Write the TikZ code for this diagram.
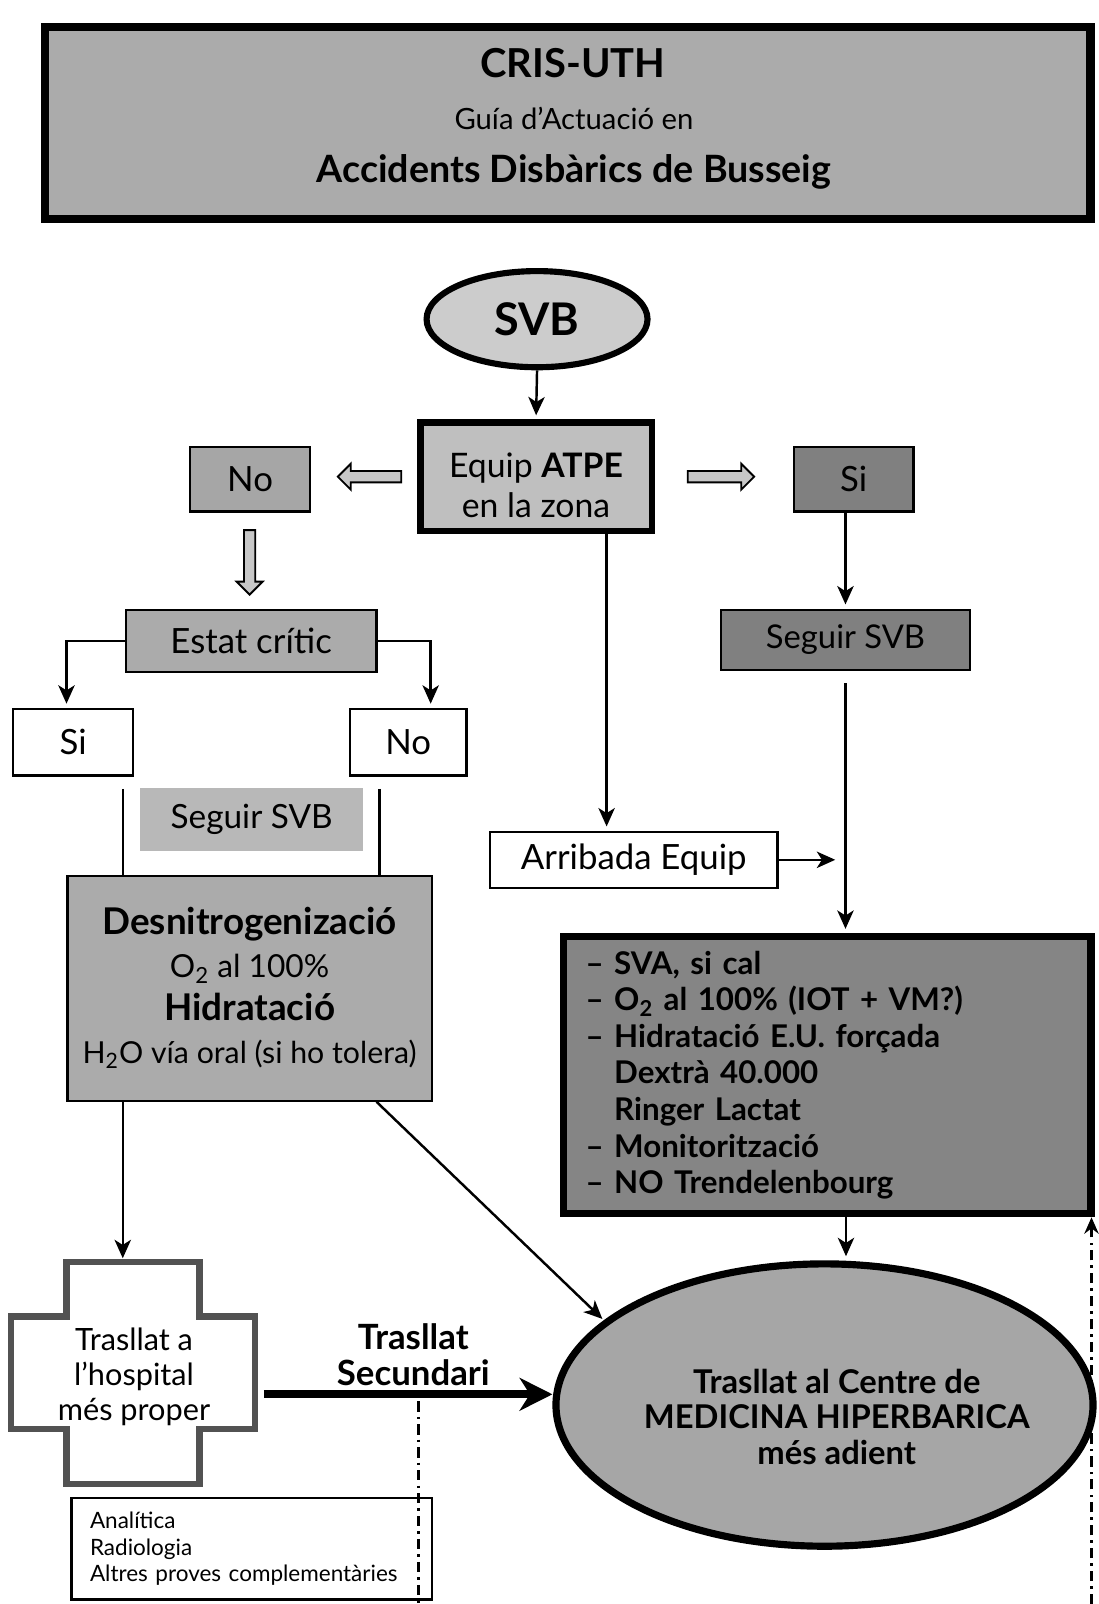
\documentclass[tikz,border=0pt]{standalone}
\usepackage{fontspec}
\setmainfont{Lato}
\usetikzlibrary{shapes.geometric,shapes.arrows,arrows.meta,calc}
\newcommand{\fsz}[2]{\fontsize{#1}{#2}\selectfont}
\tikzset{
  box/.style={draw, line width=1.1pt, inner sep=0pt, align=center},
  heavy/.style={box, line width=3pt},
  arr/.style={line width=1.2pt, shorten >=2pt, -{Stealth[length=9pt,width=8pt,inset=2.5pt]}},
  ln/.style={line width=1.2pt},
  bigarr/.style={line width=4pt, -{Stealth[length=16pt,width=16pt,inset=5pt]}},
  dd/.style={line width=1.3pt, dash pattern=on 5pt off 2.5pt on 1.2pt off 2.5pt},
  harrow/.style={single arrow, draw, line width=0.9pt, fill=black!22, inner sep=2.3pt,
    minimum width=12pt, single arrow head extend=3.6pt},
  lbl/.style={inner sep=0pt, align=center}
}
\begin{document}
\begin{tikzpicture}[x=0.5pt,y=-0.5pt]
\useasboundingbox (0,0) rectangle (1074,1568);

% title
\node[box, line width=4pt, fill=black!33, minimum width=511pt, minimum height=94pt] (title) at (555,120) {};
\node[lbl, font=\fsz{19.5}{22}\bfseries] (t1) at (560,62) {CRIS-UTH};
\node[lbl, font=\fsz{14.3}{16}] (t2) at (561,116) {Guía d’Actuació en};
\node[lbl, font=\fsz{18.4}{20}\bfseries] (t3) at (561,168) {Accidents Disbàrics de Busseig};

% SVB
\node[ellipse, draw, line width=3pt, fill=black!20, minimum width=108pt, minimum height=47pt,
  inner sep=0pt, font=\fsz{22}{24}\bfseries] (svb) at (525,312) {SVB};

% ATPE
\node[heavy, fill=black!25, minimum width=113pt, minimum height=53pt] (atpe) at (524,466) {};
\node[lbl, font=\fsz{16.5}{19.5}] (atpet) at (524,474) {Equip \textbf{ATPE}\\en la zona};

\node[box, fill=black!35, minimum width=58.5pt, minimum height=31.5pt, font=\fsz{17}{20}] (no1) at (244.5,468.5) {No};
\node[box, fill=black!50, minimum width=58.5pt, minimum height=31.5pt, font=\fsz{17}{20}] (si1) at (834.5,468.5) {Si};

\node[harrow, minimum height=31pt, rotate=180] (hl) at (364,466) {};
\node[harrow, minimum height=32.5pt] (hr) at (702,466) {};
\node[harrow, minimum height=31.5pt, rotate=270] (hd) at (244,547) {};

% left branch
\node[box, fill=black!33, minimum width=122.5pt, minimum height=30.5pt, font=\fsz{17}{19}] (estat) at (245.5,626.5) {Estat crític};
\node[box, fill=white, minimum width=58.5pt, minimum height=32.5pt, font=\fsz{17}{19}] (si2) at (71.5,725.5) {Si};
\node[box, fill=white, minimum width=57pt, minimum height=32.5pt, font=\fsz{17}{19}] (no2) at (399,725.5) {No};
\node[inner sep=0pt, fill=black!28, minimum width=109pt, minimum height=31pt, font=\fsz{16.3}{19}] (seg1) at (246,801) {Seguir SVB};
\node[box, fill=black!33, minimum width=178pt, minimum height=110pt, font=\fsz{15.5}{21}] (desn) at (244,966)
  {{\fontsize{18}{21}\selectfont\bfseries Desnitrogenizació}\\O\textsubscript{2} al 100\%\\{\fontsize{18}{21}\selectfont\bfseries Hidratació}\\{\fontsize{14.8}{21}\selectfont H\textsubscript{2}O vía oral (si ho tolera)}};

% cross
\draw[line width=3pt, black!68, fill=white] (65,1234) -- (195,1234) -- (195,1287) -- (249,1287) -- (249,1397)
  -- (195,1397) -- (195,1451) -- (65,1451) -- (65,1397) -- (11,1397) -- (11,1287) -- (65,1287) -- cycle;
\node[lbl, font=\fsz{15}{17}] (hosp) at (131,1346) {Trasllat a\\l’hospital\\més proper};
\coordinate (crossN) at (120,1234);
\coordinate (crossE) at (258,1363);

\node[box, fill=white, minimum width=176pt, minimum height=49.5pt, text width=158pt, inner xsep=9pt, align=left,
  font=\fsz{11}{13}] (ana) at (246,1514) {Analítica\\Radiologia\\Altres proves complementàries};

% right branch
\node[box, fill=black!50, minimum width=121.5pt, minimum height=29.5pt, font=\fsz{16}{19}] (seg2) at (826.5,625.5) {Seguir SVB};
\node[box, fill=white, minimum width=140.5pt, minimum height=27.5pt, font=\fsz{17}{19}] (arrib) at (619.5,840.5) {Arribada Equip};
\node[heavy, line width=3.5pt, fill=black!48, minimum width=258pt, minimum height=135.5pt, text width=236pt,
  inner xsep=11pt, align=left, font=\fsz{15.3}{17.9}\bfseries] (sva) at (808.5,1051)
  {– SVA, si cal\\– O\textsubscript{2} al 100\% (IOT + VM?)\\– Hidratació E.U. forçada\\\phantom{–\ }Dextrà 40.000\\\phantom{–\ }Ringer Lactat\\– Monitorització\\– NO Trendelenbourg};

\node[ellipse, draw, line width=3.5pt, fill=black!35, minimum width=262.5pt, minimum height=138pt, inner sep=0pt] (ell) at (806,1373.5) {};
\node[lbl, font=\fsz{16}{17.2}\bfseries] (elltxt) at (818,1385) {Trasllat al Centre de\\MEDICINA HIPERBARICA\\més adient};

\node[lbl, font=\fsz{17}{17.5}\bfseries] (sec) at (404,1324) {Trasllat\\Secundari};

% connectors
\draw[arr] (svb.south) -- (atpe.north);
\draw[arr] (estat.west) -| ([xshift=-3.25pt]si2.north);
\draw[arr] (estat.east) -| ([xshift=11pt]no2.north);
\draw[ln] ([xshift=24.25pt,yshift=-6pt]si2.south) -- ([xshift=24.25pt]si2.south |- desn.north);
\draw[ln] ([xshift=-14pt,yshift=-6pt]no2.south) -- ([xshift=-14pt]no2.south |- desn.north);
\draw[arr] ([xshift=-62pt]desn.south) -- (crossN);
\draw[arr, shorten >=1pt] ([xshift=-27.5pt]desn.south east) -- (ell.159);
\draw[bigarr] (crossE) -- (crossE -| ell.west);
\coordinate (ddA) at (409,1370);
\coordinate (ddB) at (409,1568);
\draw[dd] (ddA) -- (ddB);

\draw[arr] (si1.south -| seg2.north) -- (seg2.north);
\draw[arr] ([yshift=-6pt]seg2.south) -- (seg2.south |- sva.north);
\draw[arr] ([xshift=34.5pt]atpe.south) -- ([xshift=34.5pt]atpe.south |- arrib.north);
\draw[arr, shorten >=5pt] (arrib.east) -- (arrib.east -| seg2.south);
\draw[arr] ([xshift=9.25pt]sva.south) -- ([xshift=9.25pt]sva.south |- ell.north);
\coordinate (ddC) at (1067,1568);
\draw[dd, -{Stealth[length=8pt,width=7pt]}] (ddC) -- (sva.south east -| ddC);
\end{tikzpicture}
\end{document}
